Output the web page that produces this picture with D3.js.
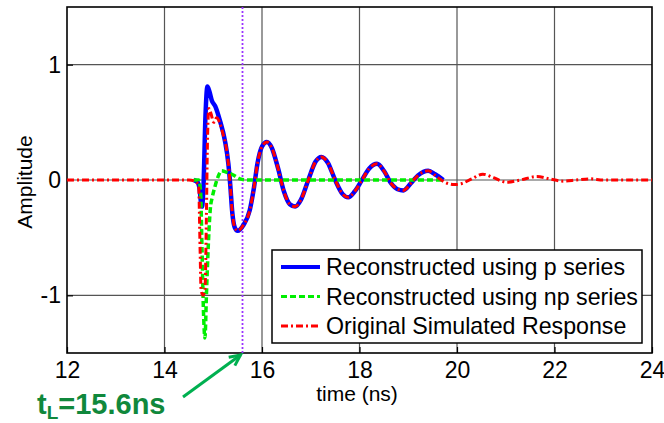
<!DOCTYPE html>
<html>
<head>
<meta charset="utf-8">
<script src="https://cdn.jsdelivr.net/npm/d3@7"></script>
<style>
  body { margin: 0; background: #fff; }
  svg { display: block; font-family: Arial, "Liberation Sans", sans-serif; }
</style>
</head>
<body>
<div id="chart"></div>
<script>
// axis ticks
const xTicks = [12, 14, 16, 18, 20, 22, 24];
const yTicks = [-1, 0, 1];
const tLaunch = 15.6;

// reconstructed using p series
const timeP = [14.60, 14.68, 14.72, 14.75, 14.77, 14.80, 14.84, 14.88, 14.92, 14.97, 15.04, 15.14, 15.24, 15.31, 15.35,
  15.39, 15.44, 15.50, 15.62, 15.75, 15.83, 15.91, 16.00, 16.10, 16.20, 16.33, 16.45, 16.57, 16.68, 16.80, 16.95,
  17.10, 17.22, 17.35, 17.50, 17.65, 17.77, 17.90, 18.05, 18.20, 18.36, 18.50, 18.65, 18.78, 18.90, 19.05, 19.20,
  19.41, 19.55, 19.72];
const ampP = [0, -0.02, -0.08, -0.20, -0.23, -0.05, 0.55, 0.81, 0.77, 0.69, 0.64, 0.51, 0.34, 0.14, -0.05,
  -0.28, -0.41, -0.44, -0.39, -0.26, -0.08, 0.15, 0.29, 0.33, 0.28, 0.10, -0.10, -0.21, -0.23, -0.17, 0.00,
  0.16, 0.20, 0.15, 0.00, -0.12, -0.15, -0.10, 0.00, 0.10, 0.14, 0.08, -0.03, -0.08, -0.09, -0.03, 0.04,
  0.08, 0.05, 0.00];

// reconstructed using np series
const timeNP = [14.60, 14.70, 14.74, 14.77, 14.80, 14.83, 14.86, 14.90, 14.94, 14.98, 15.04, 15.10, 15.17, 15.25,
  15.38, 15.55, 15.70, 16.50, 17.50, 18.50, 19.72];
const ampNP = [0, 0, -0.10, -0.60, -1.15, -1.37, -1.00, -0.55, -0.25, -0.15, -0.05, 0.03, 0.08, 0.07,
  0.05, 0.01, 0.00, 0.00, 0.00, 0.00, 0.00];

// original simulated response
const timeOrig = [12.0, 13.0, 14.0, 14.50, 14.62, 14.70, 14.73, 14.75, 14.79, 14.83, 14.86, 14.88, 14.91, 14.95,
  15.01, 15.07, 15.13, 15.20, 15.26, 15.31, 15.35, 15.39, 15.44, 15.50, 15.62, 15.75, 15.83, 15.91, 16.00, 16.10,
  16.20, 16.33, 16.45, 16.57, 16.68, 16.80, 16.95, 17.10, 17.22, 17.35, 17.50, 17.65, 17.77, 17.90, 18.05, 18.20,
  18.36, 18.50, 18.65, 18.78, 18.90, 19.05, 19.20, 19.41, 19.58, 19.75, 19.95, 20.10, 20.30, 20.53, 20.75, 21.02,
  21.30, 21.64, 21.90, 22.18, 22.45, 22.73, 23.00, 23.50, 24.0];
const ampOrig = [0, 0, 0, 0, -0.01, -0.05, -0.60, -0.95, -1.00, -0.95, -0.30, 0.30, 0.62, 0.58,
  0.50, 0.54, 0.50, 0.40, 0.30, 0.14, -0.05, -0.28, -0.41, -0.44, -0.39, -0.26, -0.08, 0.15, 0.29, 0.33,
  0.28, 0.10, -0.10, -0.21, -0.23, -0.17, 0.00, 0.16, 0.20, 0.15, 0.00, -0.12, -0.15, -0.10, 0.00, 0.10,
  0.14, 0.08, -0.03, -0.08, -0.09, -0.03, 0.04, 0.08, 0.03, -0.02, -0.04, -0.03, 0.01, 0.05, 0.02, -0.02,
  0.00, 0.03, 0.01, -0.01, 0.00, 0.01, 0.00, 0.00, 0.00];

const width = 664, height = 423;
const margin = {left: 67, right: 12, top: 7, bottom: 70};
const plotW = width - margin.left - margin.right;
const plotH = height - margin.top - margin.bottom;

const svg = d3.select("#chart").append("svg").attr("width", width).attr("height", height);
const g = svg.append("g").attr("transform", `translate(${margin.left},${margin.top})`);

const x = d3.scaleLinear().domain([12, 24]).range([0, plotW]);
const y = d3.scaleLinear().domain([-1.5, 1.5]).range([plotH, 0]);

// grid
g.selectAll(".vgrid").data(xTicks.slice(1, -1)).enter().append("line")
  .attr("x1", d => x(d)).attr("x2", d => x(d)).attr("y1", 0).attr("y2", plotH)
  .attr("stroke", "#555").attr("stroke-width", 1.2);
g.selectAll(".hgrid").data(yTicks).enter().append("line")
  .attr("x1", 0).attr("x2", plotW).attr("y1", d => y(d)).attr("y2", d => y(d))
  .attr("stroke", "#555").attr("stroke-width", 1.2);

// axes
const xAxis = g.append("g").attr("transform", `translate(0,${plotH})`)
  .call(d3.axisBottom(x).tickValues(xTicks).tickFormat(d => String(d)).tickSizeInner(-6).tickSizeOuter(0));
const yAxis = g.append("g")
  .call(d3.axisLeft(y).tickValues(yTicks).tickFormat(d => String(d)).tickSizeInner(-6).tickSizeOuter(0).tickPadding(6));
[xAxis, yAxis].forEach(a => {
  a.select(".domain").remove();
  a.selectAll("line").attr("stroke", "#000").attr("stroke-width", 1.2);
  a.selectAll("text").attr("font-size", 23).attr("fill", "#000").attr("font-family", "Arial, 'Liberation Sans', sans-serif");
});
xAxis.selectAll("text").attr("dy", "0.71em").attr("y", 9);

// box
g.append("rect").attr("width", plotW).attr("height", plotH)
  .attr("fill", "none").attr("stroke", "#000").attr("stroke-width", 1.6);

// launch time marker
g.append("line").attr("x1", x(tLaunch)).attr("x2", x(tLaunch)).attr("y1", 0).attr("y2", plotH)
  .attr("stroke", "#9933ff").attr("stroke-width", 1.8).attr("stroke-dasharray", "2,2");

const line = d3.line().x(d => x(d[0])).y(d => y(d[1])).curve(d3.curveMonotoneX);

const series = [
  {t: timeP, a: ampP, color: "#0000ff", w: 4.5, dash: null},
  {t: timeNP, a: ampNP, color: "#00ee00", w: 3.5, dash: "6,3"},
  {t: timeOrig, a: ampOrig, color: "#ff0000", w: 3, dash: "7,3,2,3"}
];
series.forEach(s => {
  g.append("path").datum(d3.zip(s.t, s.a)).attr("d", line)
    .attr("fill", "none").attr("stroke", s.color).attr("stroke-width", s.w)
    .attr("stroke-dasharray", s.dash).attr("stroke-linejoin", "round");
});

// axis labels
svg.append("text").attr("x", 357).attr("y", 401).attr("text-anchor", "middle")
  .attr("font-size", 21).text("time (ns)");
svg.append("text").attr("transform", "translate(32,182) rotate(-90)").attr("text-anchor", "middle")
  .attr("font-size", 21).text("Amplitude");

// legend
const legend = svg.append("g");
legend.append("rect").attr("x", 272).attr("y", 250).attr("width", 370).attr("height", 93)
  .attr("fill", "#fff").attr("stroke", "#000").attr("stroke-width", 1.5);
const legendNames = ["Reconstructed using p series", "Reconstructed using np series", "Original Simulated Response"];
legendNames.forEach((name, i) => {
  const ly = 267 + i * 29.5;
  const s = series[i];
  legend.append("line").attr("x1", 281).attr("x2", 320).attr("y1", ly).attr("y2", ly)
    .attr("stroke", s.color).attr("stroke-width", i === 0 ? 4 : 3).attr("stroke-dasharray", s.dash);
  legend.append("text").attr("x", 326).attr("y", ly + 8).attr("font-size", 23.2).text(name);
});

// annotation
const green = "#00b050";
const tipX = margin.left + x(tLaunch) - 2, tipY = margin.top + plotH + 2;
svg.append("line").attr("x1", 183).attr("y1", 397).attr("x2", tipX).attr("y2", tipY)
  .attr("stroke", green).attr("stroke-width", 3);
const ang = Math.atan2(tipY - 397, tipX - 183);
const hl = 12;
svg.append("path")
  .attr("d", `M${tipX - hl * Math.cos(ang - 0.45)},${tipY - hl * Math.sin(ang - 0.45)} L${tipX},${tipY} L${tipX - hl * Math.cos(ang + 0.45)},${tipY - hl * Math.sin(ang + 0.45)}`)
  .attr("fill", "none").attr("stroke", green).attr("stroke-width", 3);

const note = svg.append("text").attr("x", 37).attr("y", 414)
  .attr("font-size", 29).attr("font-weight", "bold").attr("fill", "#10883c");
note.append("tspan").text("t");
note.append("tspan").attr("font-size", 19).attr("dy", 5).text("L");
note.append("tspan").attr("dy", -5).text("=15.6ns");
</script>
</body>
</html>
